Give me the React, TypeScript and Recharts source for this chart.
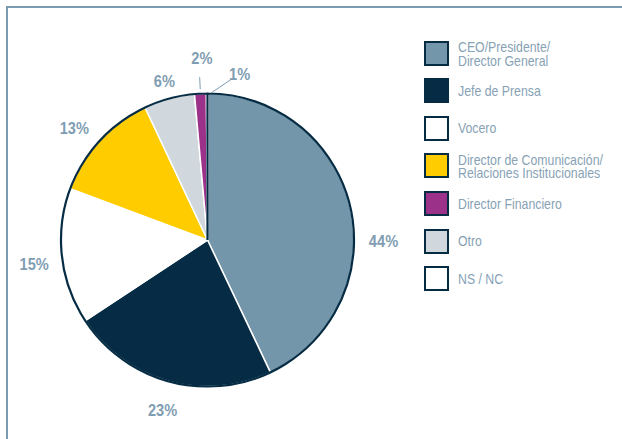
import { PieChart, Pie, Cell, Legend } from "recharts";

// legend order
const CATEGORIES = [
  "CEO/Presidente/\nDirector General",
  "Jefe de Prensa",
  "Vocero",
  "Director de Comunicación/\nRelaciones Institucionales",
  "Director Financiero",
  "Otro",
  "NS / NC",
];
// slice sizes as drawn, and the percentages printed next to them
const SHARES = [42.9, 22.8, 15.0, 12.3, 1.3, 5.6, 0.2];
const PRINTED = [44, 23, 15, 13, 2, 6, 1];
// slices run clockwise from the top in this order
const PIE_ORDER = [0, 1, 2, 3, 5, 4, 6];

const COLORS = ["#7396aa", "#052c44", "#ffffff", "#ffcc00", "#9c3189", "#d0d8de", "#ffffff"];
const NAVY = "#062c44";
const LABEL = "#7f9db2";
const LEGEND_TEXT = "#87a2b5";
const FRAME = "#7b9bb0";
const FONT = "'Liberation Sans', Arial, sans-serif";

const pieData = PIE_ORDER.map((i) => ({
  name: CATEGORIES[i],
  value: SHARES[i],
  pct: PRINTED[i],
  color: COLORS[i],
}));
const outline = [{ name: "outline", value: 1 }];

// label placement (pie order): clockwise shift from the slice mid angle (deg), radius, optional leader
const LABEL_POS: { shift: number; r: number; lead?: [number, number, number, number] }[] = [
  { shift: 12.8, r: 176 },
  { shift: -0.8, r: 176 },
  { shift: -1.5, r: 175 },
  { shift: -2.6, r: 174 },
  { shift: 0, r: 165 },
  { shift: 1, r: 182, lead: [0, 151, 0, 163] },
  { shift: 11, r: 169, lead: [1.4, 147, 8.3, 162] },
];

const RAD = Math.PI / 180;
function pt(cx: number, cy: number, mid: number, shift: number, r: number) {
  const a = (mid - shift) * RAD;
  return { x: cx + r * Math.cos(a), y: cy - r * Math.sin(a) };
}

// eslint-disable-next-line @typescript-eslint/no-explicit-any
function renderLabel(props: any) {
  const { cx, cy, midAngle, index } = props;
  const pos = LABEL_POS[index];
  const p = pt(cx, cy, midAngle, pos.shift, pos.r);
  let line = null;
  if (pos.lead) {
    const a = pt(cx, cy, midAngle, pos.lead[0], pos.lead[1]);
    const b = pt(cx, cy, midAngle, pos.lead[2], pos.lead[3]);
    line = <line x1={a.x} y1={a.y} x2={b.x} y2={b.y} stroke={LABEL} strokeWidth={1} />;
  }
  return (
    <g>
      {line}
      <text
        x={0}
        y={0}
        transform={`translate(${p.x},${p.y}) scale(0.86,1)`}
        textAnchor="middle"
        dominantBaseline="central"
        fill={LABEL}
        fontFamily={FONT}
        fontWeight="bold"
        fontSize={17}
      >
        {pieData[index].pct}%
      </text>
    </g>
  );
}

function LegendBox() {
  return (
    <div style={{ fontFamily: FONT, fontSize: 15, color: LEGEND_TEXT }}>
      {CATEGORIES.map((c, i) => (
        <div key={c} style={{ height: 37.67, position: "relative" }}>
          <div
            style={{
              position: "absolute",
              left: 0,
              top: 0,
              width: 25,
              height: 25,
              boxSizing: "border-box",
              background: COLORS[i],
              border: `2px solid ${NAVY}`,
            }}
          />
          <div
            style={{
              position: "absolute",
              left: 34,
              top: 12.5,
              transform: "translateY(-50%) scaleX(0.82)",
              transformOrigin: "left center",
              lineHeight: "13.5px",
              whiteSpace: "pre",
              textAlign: "left",
            }}
          >
            {c}
          </div>
        </div>
      ))}
    </div>
  );
}

export default function App() {
  return (
    <div style={{ position: "absolute", left: 0, top: 0, width: 622, height: 439, background: "#fff" }}>
      <div
        style={{
          position: "absolute",
          left: 6,
          top: 6,
          right: 0,
          bottom: 0,
          borderTop: `2.5px solid ${FRAME}`,
          borderLeft: `2.5px solid ${FRAME}`,
        }}
      />
      <PieChart width={622} height={439} margin={{ top: 0, right: 0, bottom: 0, left: 0 }}>
        <Pie
          data={pieData}
          dataKey="value"
          cx={207.5}
          cy={240}
          outerRadius={146.5}
          startAngle={89.7}
          endAngle={-270.3}
          stroke="#ffffff"
          strokeWidth={1.5}
          label={renderLabel}
          labelLine={false}
          isAnimationActive={false}
        >
          {pieData.map((d) => (
            <Cell key={d.name} fill={d.color} />
          ))}
        </Pie>
        <Pie
          data={outline}
          dataKey="value"
          cx={207.5}
          cy={240}
          outerRadius={146.5}
          startAngle={90}
          endAngle={-270}
          fill="none"
          stroke={NAVY}
          strokeWidth={2.2}
          legendType="none"
          isAnimationActive={false}
        />
        <Legend
          layout="vertical"
          content={<LegendBox />}
          wrapperStyle={{ position: "absolute", left: 424, top: 40.5, width: 190, bottom: "auto" }}
        />
      </PieChart>
    </div>
  );
}
